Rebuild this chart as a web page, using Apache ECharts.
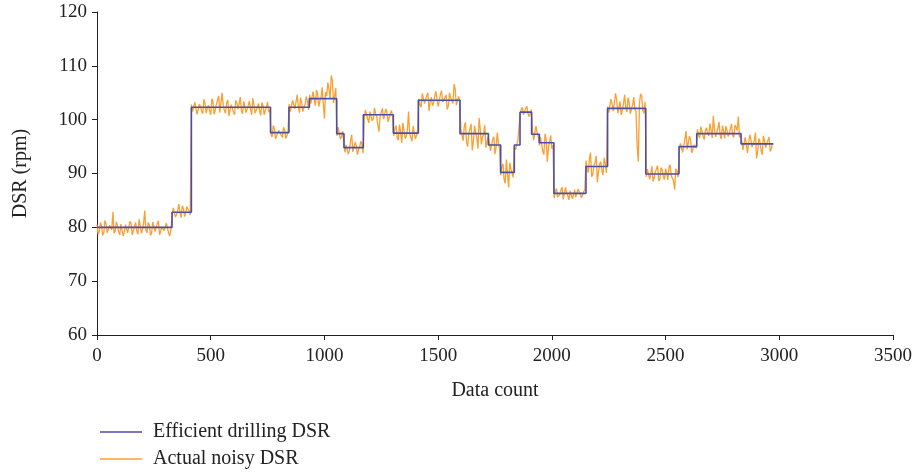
<!DOCTYPE html>
<html>
<head>
<meta charset="utf-8">
<script src="https://cdn.jsdelivr.net/npm/echarts@6/dist/echarts.min.js"></script>
<style>
  html, body { margin: 0; padding: 0; background: #fff; }
  #chart { width: 916px; height: 476px; }
</style>
</head>
<body>
<div id="chart"></div>
<script>
// step levels of the efficient drilling DSR
const stepStarts = [0, 330, 415, 763, 844, 934, 1054, 1086, 1171, 1303, 1413, 1596, 1721,
  1775, 1835, 1860, 1911, 1945, 2009, 2150, 2245, 2413, 2559, 2637, 2832];
const stepLevels = [80, 82.8, 102.3, 97.6, 102.3, 103.9, 97.4, 94.8, 100.9, 97.5, 103.6, 97.4, 95.3,
  90.2, 95.3, 101.4, 97.3, 95.7, 86.3, 91.3, 102.1, 89.9, 95.0, 97.4, 95.5];
const stepEnd = 2974;

// actual noisy DSR, read at x = 0, 10, 20, ...
const noisyDSR = [
  80.5, 79.2, 80.3, 79.0, 80.6, 78.8, 80.1, 82.9, 79.3, 80.4, 78.6, 80.8, 79.1, 80.2, 78.9, 80.7,
  79.4, 80.9, 78.7, 80.3, 79.6, 83.1, 79.0, 80.5, 78.9, 80.2, 79.3, 81.2, 78.8, 80.4, 79.1, 80.6, 78.4,
  82.1, 83.9, 82.4, 84.3, 81.8, 83.5, 82.6, 84.1, 82.3,
  101.5, 103.2, 101.0, 102.9, 101.6, 103.8, 101.2, 102.7, 100.9, 103.4, 101.8, 102.6, 101.3, 105.0,
  101.7, 103.1, 100.7, 102.8, 101.4, 103.6, 101.9, 104.2, 101.1, 102.5, 101.6, 103.5, 100.9, 102.8,
  101.5, 103.0, 100.8, 102.6, 101.7, 103.3, 101.9,
  96.8, 98.4, 96.3, 98.0, 97.1, 98.6, 96.5, 97.9,
  101.5, 103.6, 102.0, 104.6, 101.3, 103.1, 102.4, 104.3, 101.8,
  103.0, 105.2, 102.6, 104.8, 103.5, 106.0, 100.2, 104.4, 105.6, 108.2, 103.1, 105.9,
  98.6, 96.4, 97.9,
  93.9, 95.6, 94.2, 97.2, 93.7, 95.1, 94.4, 96.0, 93.8,
  101.8, 100.2, 101.5, 99.8, 102.2, 100.6, 97.8, 101.4, 100.1, 102.0, 99.6, 101.2, 100.4,
  98.4, 96.6, 99.1, 95.7, 98.0, 96.9, 101.5, 97.2, 98.8, 96.4, 98.1,
  102.8, 104.9, 103.0, 104.5, 101.6, 104.2, 103.1, 105.3, 102.4, 104.7, 103.3, 104.1, 101.9, 105.0,
  103.5, 106.6, 102.7, 104.3,
  98.3, 96.1, 99.5, 95.0, 97.8, 94.3, 98.9, 96.6, 100.3, 95.4, 97.2, 94.8, 96.9,
  94.2, 96.4, 93.6, 97.6, 94.7,
  91.2, 88.9, 92.6, 87.4, 90.8, 89.3,
  94.4, 96.0,
  100.7, 102.3, 101.0, 102.5, 100.6, 101.9,
  96.2, 98.8, 96.9,
  96.8, 94.1, 97.4, 92.2, 95.9, 94.6,
  85.4, 87.2, 85.8, 86.9, 85.2, 87.4, 85.9, 86.8, 85.3, 87.0, 85.7, 87.3, 85.5, 86.6,
  92.4, 90.2, 93.9, 89.8, 92.0, 88.4, 91.7, 90.5, 92.9, 90.1,
  101.3, 103.8, 101.6, 104.9, 101.2, 103.4, 101.8, 104.6, 101.4, 103.1, 102.0, 104.2, 101.5, 92.2,
  104.8, 101.7, 103.3,
  90.8, 88.9, 91.4, 89.2, 90.6, 88.6, 91.1, 89.5, 90.9, 88.8, 91.6, 89.1, 87.0, 90.4,
  94.1, 95.8, 93.7, 97.9, 94.6, 96.2, 94.0, 95.5,
  98.2, 96.6, 97.9, 96.3, 98.5, 97.0, 98.1, 100.7, 96.8, 98.4, 97.1, 98.9, 96.5, 98.0, 97.3, 99.2,
  96.7, 98.6, 100.6, 97.2,
  94.4, 96.7, 93.8, 97.2, 94.9, 96.1, 92.8, 96.5, 94.3, 97.0, 94.8, 96.2, 94.1, 95.6
];

// actual noisy DSR, read at x = 5, 15, 25, ...
const noisyDSRMid = [
  78.7, 80.9, 78.5, 81.3, 79.0, 80.4, 79.5, 78.9, 81.0, 79.2, 80.6, 78.4, 80.5, 79.0, 81.1, 78.6,
  80.2, 79.3, 81.5, 78.9, 80.8, 79.4, 80.9, 78.5, 81.0, 79.2, 80.7, 78.6, 80.1, 79.4, 80.8, 78.9, 79.6,
  83.6, 81.9, 83.2, 82.7, 84.0, 82.0, 83.8, 83.0,
  102.8, 101.4, 103.5, 101.9, 102.4, 101.1, 103.0, 102.2, 101.6, 103.9, 101.0, 102.9, 104.4, 101.5,
  102.7, 101.2, 103.7, 101.8, 102.5, 100.9, 103.1, 102.0, 101.7, 103.4, 101.3, 102.6, 101.9, 104.0,
  101.2, 102.3, 101.6, 103.2, 100.9, 102.4, 101.4,
  97.2, 98.9, 96.4, 97.6, 98.3, 96.7, 98.1, 97.0,
  102.9, 101.2, 103.8, 101.7, 102.6, 104.1, 101.5, 102.8, 103.5,
  104.6, 102.9, 103.8, 105.5, 102.4, 104.1, 103.0, 105.1, 106.9, 104.0, 107.3, 102.8,
  97.0, 98.3, 96.8, 97.7,
  95.3, 93.6, 96.2, 94.0, 95.8, 93.5, 94.9, 95.4,
  100.3, 101.9, 99.4, 101.6, 100.2, 101.1, 98.9, 100.7, 102.1, 99.9, 101.3, 100.5, 101.7,
  97.0, 98.9, 96.2, 97.8, 99.4, 96.5, 98.2, 97.4, 96.0, 98.5, 97.1,
  103.9, 102.3, 104.0, 102.9, 105.0, 103.4, 102.6, 104.4, 103.8, 102.1, 105.4, 103.2, 104.6, 102.6,
  104.1, 103.0, 105.7, 102.9, 103.6,
  97.0, 98.8, 95.7, 97.5, 99.2, 96.0, 97.6, 94.6, 98.3, 96.8, 99.0, 95.9,
  95.8, 93.9, 96.8, 94.9, 95.6,
  89.7, 91.8, 88.2, 90.0, 92.0, 90.5,
  95.0, 94.1, 95.8,
  101.9, 100.9, 102.1, 101.2, 100.8,
  97.8, 96.5, 97.6,
  95.2, 97.0, 93.5, 96.3, 94.8, 97.1, 95.3,
  86.7, 85.6, 86.1, 87.5, 85.5, 86.4, 85.1, 86.9, 86.0, 85.6, 87.1, 86.2, 85.4, 87.0,
  90.8, 92.7, 89.4, 91.5, 93.3, 90.3, 92.2, 89.7, 91.9,
  102.4, 101.0, 102.9, 101.7, 103.7, 102.2, 100.9, 103.0, 102.3, 104.1, 101.1, 102.7, 102.0, 95.3,
  102.9, 104.4, 101.2,
  89.4, 91.0, 89.9, 88.5, 90.3, 91.5, 89.0, 90.7, 88.9, 90.1, 91.2, 89.6, 88.6, 90.9, 89.3,
  95.6, 93.9, 96.4, 94.5, 97.0, 93.8, 95.3, 94.7,
  97.0, 98.7, 96.9, 98.0, 97.4, 99.3, 96.6, 98.2, 97.6, 99.6, 96.4, 97.9, 98.8, 96.9, 98.4, 97.1,
  99.0, 98.0, 96.7,
  96.0, 94.1, 95.6, 93.6, 96.4, 94.8, 97.6, 94.0, 95.9, 93.5, 96.1, 95.0, 96.8, 94.6
];
const noiseStep = 10;

const xTicks = [0, 500, 1000, 1500, 2000, 2500, 3000, 3500];
const yTicks = [60, 70, 80, 90, 100, 110, 120];

const stepData = stepStarts.map((x, i) => [x, stepLevels[i]]);
stepData.push([stepEnd, stepLevels[stepLevels.length - 1]]);

const noisyData = [];
noisyDSR.forEach((v, i) => {
  noisyData.push([i * noiseStep, v]);
  if (i < noisyDSRMid.length) noisyData.push([i * noiseStep + noiseStep / 2, noisyDSRMid[i]]);
});

const font = 'Liberation Serif';
const axisColor = '#222';
const textColor = '#222';

const chart = echarts.init(document.getElementById('chart'));
chart.setOption({
  animation: false,
  backgroundColor: '#fff',
  textStyle: { fontFamily: font },
  grid: { left: 97, right: 23, top: 12, bottom: 141 },
  legend: {
    orient: 'vertical',
    left: 95,
    bottom: 2,
    icon: 'rect',
    itemWidth: 42,
    itemHeight: 1.5,
    itemGap: 7,
    data: ['Efficient drilling DSR', 'Actual noisy DSR'],
    textStyle: { fontFamily: font, fontSize: 20, lineHeight: 20, color: textColor, padding: [0, 0, 0, 6] }
  },
  xAxis: {
    type: 'value',
    min: xTicks[0],
    max: xTicks[xTicks.length - 1],
    interval: 500,
    name: 'Data count',
    nameLocation: 'middle',
    nameGap: 46,
    nameTextStyle: { fontFamily: font, fontSize: 20, color: textColor },
    splitLine: { show: false },
    axisLine: { lineStyle: { color: axisColor, width: 1 } },
    axisTick: { show: true, length: 5, lineStyle: { color: axisColor } },
    axisLabel: { fontFamily: font, fontSize: 19, color: textColor, margin: 12,
      formatter: v => String(v) }
  },
  yAxis: {
    type: 'value',
    min: yTicks[0],
    max: yTicks[yTicks.length - 1],
    interval: 10,
    name: 'DSR (rpm)',
    nameLocation: 'middle',
    nameGap: 66,
    nameTextStyle: { fontFamily: font, fontSize: 20, color: textColor },
    splitLine: { show: false },
    axisLine: { show: true, lineStyle: { color: axisColor, width: 1 } },
    axisTick: { show: true, length: 5, lineStyle: { color: axisColor } },
    axisLabel: { fontFamily: font, fontSize: 19, color: textColor, margin: 10,
      formatter: v => String(v) }
  },
  series: [
    {
      name: 'Actual noisy DSR',
      type: 'line',
      data: noisyData,
      symbol: 'none',
      z: 2,
      lineStyle: { color: '#f9a033', width: 1.3 },
      itemStyle: { color: '#f9a033' }
    },
    {
      name: 'Efficient drilling DSR',
      type: 'line',
      step: 'end',
      data: stepData,
      symbol: 'none',
      z: 3,
      lineStyle: { color: '#4c4ea6', width: 1.6 },
      itemStyle: { color: '#4c4ea6' }
    }
  ]
});
</script>
</body>
</html>
